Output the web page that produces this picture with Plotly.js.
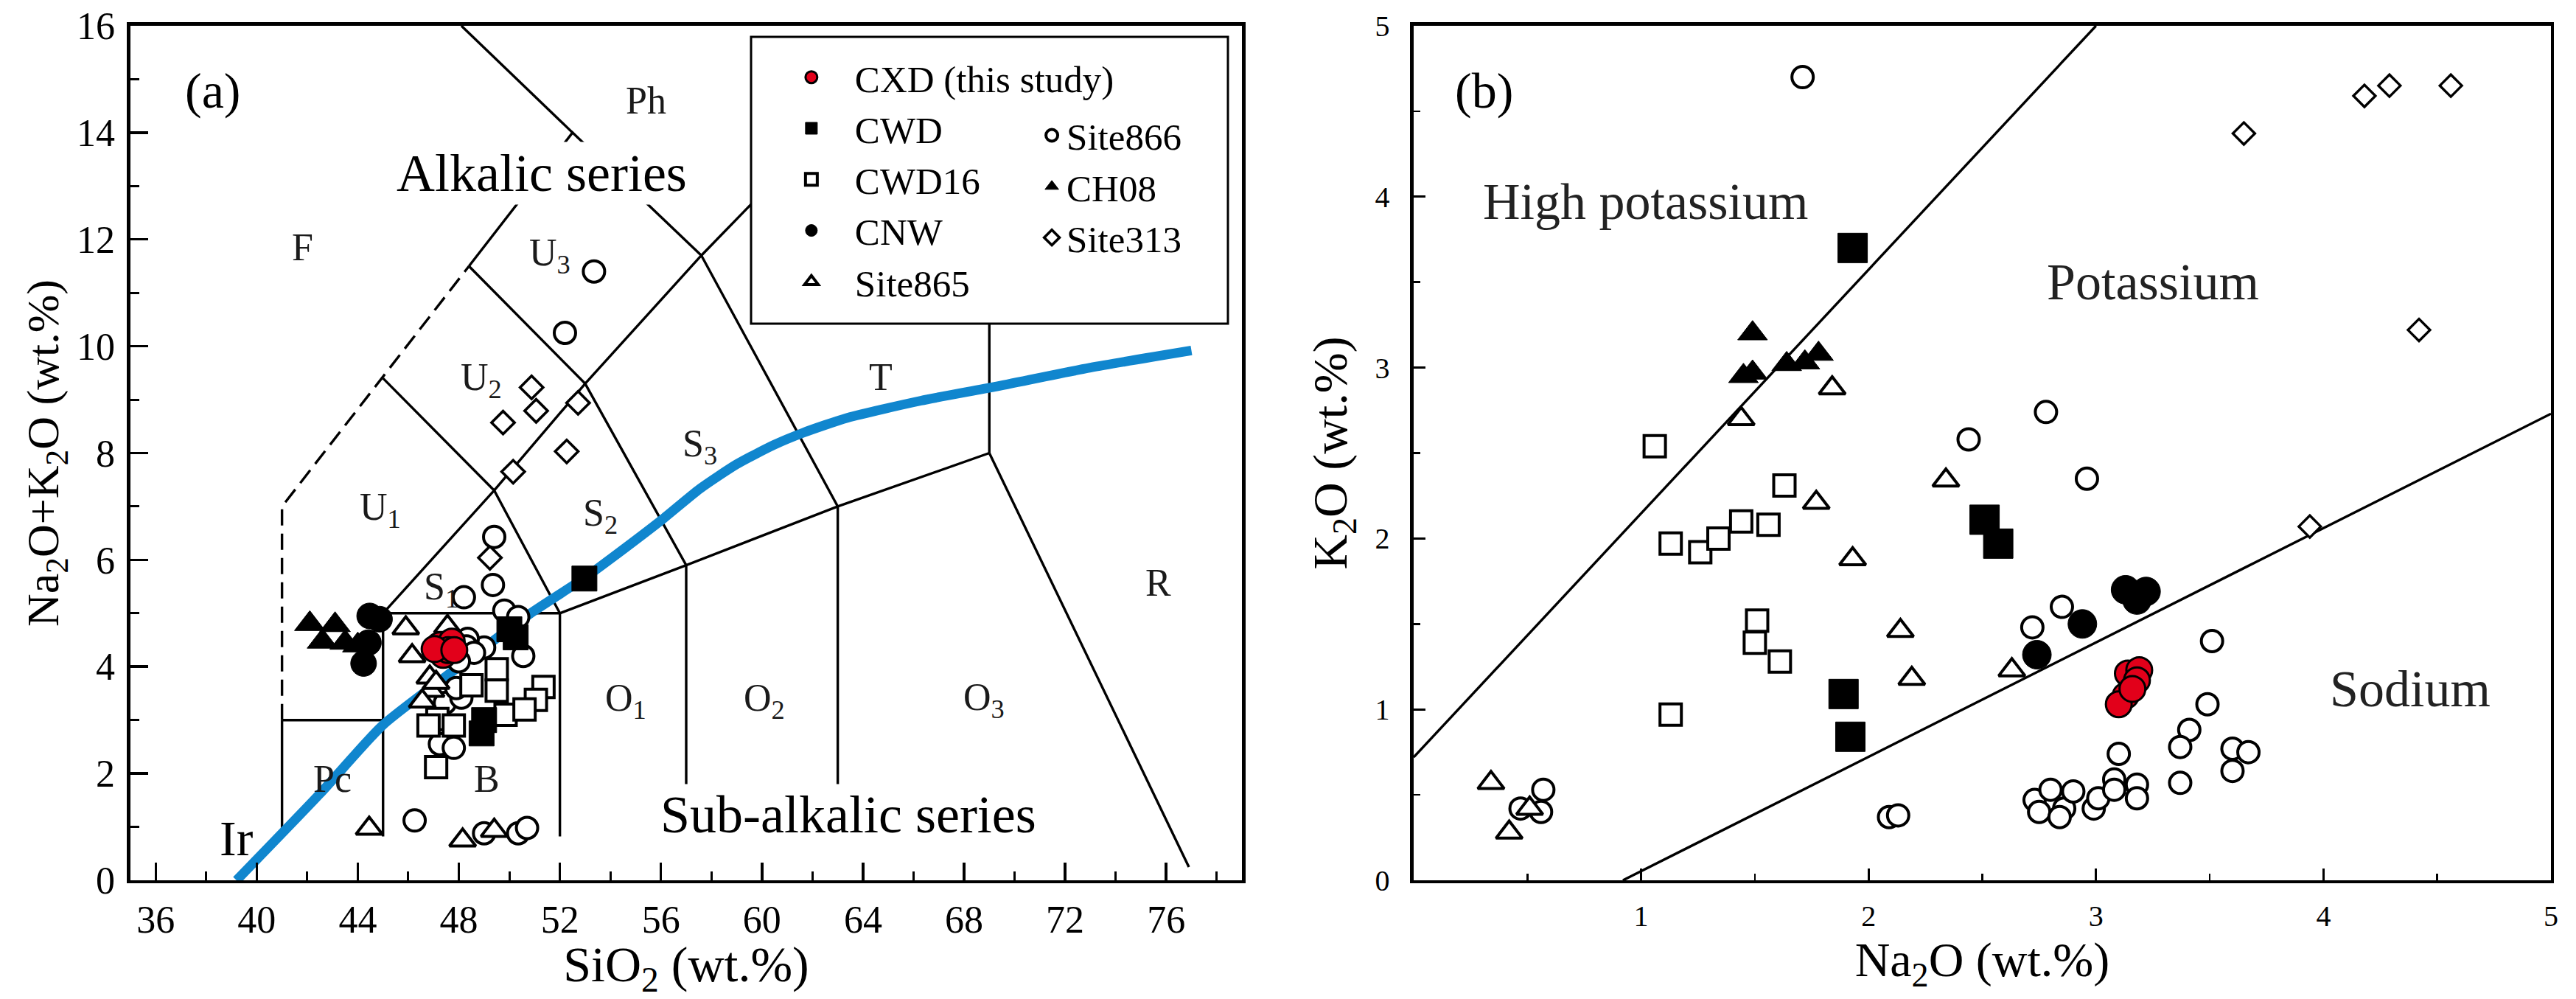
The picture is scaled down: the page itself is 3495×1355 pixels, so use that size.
<!DOCTYPE html>
<html><head><meta charset="utf-8">
<script src="https://cdn.plot.ly/plotly-3.0.1.min.js"></script>
<style>html,body{margin:0;padding:0;background:#fff;}#chart{width:3495px;height:1355px;}</style>
</head><body><div id="chart"></div>
<script>
// ---------- Panel (a): TAS diagram data (SiO2 vs Na2O+K2O) ----------
const cxdA_SiO2 = [47.24, 47.72, 47.38, 47.58, 47.04, 47.82];
const cxdA_Alk  = [4.40, 4.47, 4.22, 4.31, 4.33, 4.31];
const cwdA_SiO2 = [52.97, 50.0, 50.25, 49.0, 48.9];
const cwdA_Alk  = [5.65, 4.70, 4.55, 3.00, 2.75];
const cwd16A_SiO2 = [49.5, 48.5, 49.5, 51.35, 51.05, 49.85, 50.6, 47.15, 46.8, 47.8, 47.1];
const cwd16A_Alk  = [3.95, 3.65, 3.55, 3.62, 3.38, 3.10, 3.20, 3.02, 2.90, 2.90, 2.12];
const cnwA_SiO2 = [44.47, 44.86, 44.42, 44.23];
const cnwA_Alk  = [4.95, 4.89, 4.45, 4.06];
const site865A_SiO2 = [45.9, 47.55, 46.15, 46.85, 46.9, 46.55, 47.1, 44.45, 48.15, 49.4];
const site865A_Alk  = [4.72, 4.75, 4.20, 3.80, 3.55, 3.35, 3.70, 0.97, 0.75, 0.93];
const site866A_SiO2 = [53.35, 52.2, 49.4, 49.35, 48.2, 49.8, 50.35, 50.55, 49.0, 48.35, 48.3, 48.6, 48.0, 47.45, 48.1, 47.9, 47.25, 47.8, 46.25, 49.0, 50.35, 50.7];
const site866A_Alk  = [11.4, 10.25, 6.43, 5.53, 5.30, 5.05, 4.93, 4.20, 4.36, 4.52, 4.38, 4.26, 4.10, 3.32, 3.42, 3.60, 2.55, 2.48, 1.12, 0.88, 0.88, 0.98];
const ch08A_SiO2 = [42.1, 43.1, 42.6, 43.5, 44.0];
const ch08A_Alk  = [4.80, 4.78, 4.47, 4.45, 4.40];
const site313A_SiO2 = [50.88, 51.06, 49.75, 52.72, 52.27, 50.15, 49.23];
const site313A_Alk  = [9.23, 8.79, 8.57, 8.94, 8.03, 7.65, 6.04];

// TAS field boundaries (segments separated by null)
const tasSolidX = [41,41,null, 41,45,null, 45,45,null, 45,52,null, 52,52,null,
  52,57,63,69,null, 57,57,null, 63,63,null, 69,76.9,null, 69,69,null,
  45,49.4,52,null, 45,49.4,null, 49.4,53,57.6,61.3,null, 48.4,53,57,null,
  57.6,63,null, 48.4,52.5,57.6,null, 48.1,52.5];
const tasSolidY = [0.82,3,null, 3,3,null, 0.82,5,null, 5,5,null, 0.82,5,null,
  5,5.9,7,8,null, 1.8,5.9,null, 1.8,7,null, 8,0.25,null, 8,13,null,
  5,7.3,5,null, 9.4,7.3,null, 7.3,9.3,11.7,13.5,null, 11.5,9.3,5.9,null,
  11.7,7,null, 11.5,14,11.7,null, 16,14];
const tasDashX = [41, 41, 48.4];
const tasDashY = [3, 7, 11.5];
// Alkalic / sub-alkalic dividing curve
const irvineX = [39.2, 42.5, 45, 48, 50.84, 53, 54.63, 56.09, 57.54, 59.0, 60.46, 61.63, 63.38, 66.29, 69.21, 73, 77];
const irvineY = [0, 1.62, 2.91, 4.0, 5.0, 5.67, 6.24, 6.77, 7.33, 7.79, 8.15, 8.38, 8.66, 8.98, 9.24, 9.6, 9.92];

// ---------- Panel (b): Na2O vs K2O ----------
const cxdB_Na = [3.14, 3.19, 3.18, 3.13, 3.10, 3.16];
const cxdB_K  = [1.21, 1.23, 1.17, 1.08, 1.03, 1.12];
const cwdB_Na = [1.93, 2.51, 2.57, 1.89, 1.92];
const cwdB_K  = [3.70, 2.11, 1.97, 1.09, 0.84];
const cwd16B_Na = [1.06, 1.63, 1.13, 1.26, 1.34, 1.44, 1.56, 1.51, 1.50, 1.61, 1.13];
const cwd16B_K  = [2.54, 2.31, 1.97, 1.92, 2.00, 2.10, 2.08, 1.52, 1.39, 1.28, 0.97];
const cnwB_Na = [2.74, 2.94, 3.13, 3.22, 3.18];
const cnwB_K  = [1.32, 1.50, 1.70, 1.69, 1.64];
const site865B_Na = [0.34, 0.42, 0.51, 1.44, 1.84, 1.77, 1.93, 2.14, 2.19, 2.34, 2.63];
const site865B_K  = [0.57, 0.28, 0.42, 2.70, 2.88, 2.21, 1.88, 1.46, 1.18, 2.34, 1.23];
const site866B_Na = [1.71, 2.78, 2.44, 2.96, 2.85, 2.72, 3.51, 3.49, 3.41, 3.37, 3.60, 3.67, 3.60, 3.37, 3.10, 2.73, 2.80, 2.75, 2.86, 2.90, 2.84, 2.99, 3.01, 3.08, 3.08, 3.18, 3.18, 2.09, 2.13, 0.47, 0.57, 0.56];
const site866B_K  = [4.70, 2.74, 2.58, 2.35, 1.60, 1.48, 1.40, 1.03, 0.88, 0.78, 0.77, 0.75, 0.64, 0.57, 0.74, 0.47, 0.53, 0.40, 0.42, 0.52, 0.37, 0.42, 0.48, 0.59, 0.53, 0.56, 0.48, 0.37, 0.38, 0.42, 0.53, 0.40];
const ch08B_Na = [1.49, 1.45, 1.49, 1.64, 1.72, 1.78];
const ch08B_K  = [3.20, 2.95, 2.97, 3.02, 3.03, 3.08];
const site313B_Na = [3.65, 4.18, 4.29, 4.56, 4.42, 3.94];
const site313B_K  = [4.37, 4.59, 4.65, 4.65, 3.22, 2.07];
// field boundaries
const kBoundX = [0, 3.0, null, 0.92, 5];
const kBoundY = [0.72, 5.0, null, 0, 2.73];

// ---------- tick values ----------
const ticksA_x = [36, 40, 44, 48, 52, 56, 60, 64, 68, 72, 76];
const minorA_x = [38, 42, 46, 50, 54, 58, 62, 66, 70, 74, 78];
const ticksA_y = [0, 2, 4, 6, 8, 10, 12, 14, 16];
const minorA_y = [1, 3, 5, 7, 9, 11, 13, 15];
const ticksB_x = [1, 2, 3, 4, 5];
const ticksB_y = [0, 1, 2, 3, 4, 5];
const minorB = [0.5, 1.5, 2.5, 3.5, 4.5];

const FONT = 'Liberation Serif, Times New Roman, serif';
const RED = 'rgb(226,0,26)';
const BLUE = 'rgb(16,134,206)';

function pts(x, y, name, symbol, size, fill, lw, axis, legendOpts) {
  const t = {
    type: 'scatter', mode: 'markers', x: x, y: y, name: name,
    marker: {symbol: symbol, size: size, color: fill, line: {color: '#000', width: lw}},
    hoverinfo: 'x+y+name', cliponaxis: false
  };
  if (axis === 2) { t.xaxis = 'x2'; t.yaxis = 'y2'; t.showlegend = false; }
  else { Object.assign(t, legendOpts); }
  return t;
}

const traces = [
  // panel (a) lines
  {type:'scatter', mode:'lines', x: tasSolidX, y: tasSolidY, line:{color:'#000', width:3.4}, showlegend:false, hoverinfo:'skip', connectgaps:false},
  {type:'scatter', mode:'lines', x: tasDashX, y: tasDashY, line:{color:'#000', width:3.4, dash:'22px,11px'}, showlegend:false, hoverinfo:'skip'},
  {type:'scatter', mode:'lines', x: irvineX, y: irvineY, line:{color:BLUE, width:13, shape:'spline', smoothing:0.6}, showlegend:false, hoverinfo:'skip'},
  // panel (b) lines
  {type:'scatter', mode:'lines', x: kBoundX, y: kBoundY, xaxis:'x2', yaxis:'y2', line:{color:'#000', width:3.4}, showlegend:false, hoverinfo:'skip', connectgaps:false},

  // panel (a) points
  pts(site313A_SiO2, site313A_Alk, 'Site313', 'diamond', 24, '#fff', 3.6, 1, {legend:'legend2', legendrank:3}),
  pts(site866A_SiO2, site866A_Alk, 'Site866', 'circle', 29, '#fff', 4, 1, {legend:'legend2', legendrank:1}),
  pts(site865A_SiO2, site865A_Alk, 'Site865', 'triangle-up', 31, '#fff', 4, 1, {legend:'legend', legendrank:5}),
  pts(cwd16A_SiO2, cwd16A_Alk, 'CWD16', 'square', 29, '#fff', 4, 1, {legend:'legend', legendrank:3}),
  pts(cwdA_SiO2, cwdA_Alk, 'CWD', 'square', 34, '#000', 1, 1, {legend:'legend', legendrank:2}),
  pts(cnwA_SiO2, cnwA_Alk, 'CNW', 'circle', 35, '#000', 1, 1, {legend:'legend', legendrank:4}),
  pts(ch08A_SiO2, ch08A_Alk, 'CH08', 'triangle-up', 36, '#000', 1, 1, {legend:'legend2', legendrank:2}),
  pts(cxdA_SiO2, cxdA_Alk, 'CXD (this study)', 'circle', 35, RED, 3, 1, {legend:'legend', legendrank:1}),

  // panel (b) points
  pts(site313B_Na, site313B_K, 'Site313', 'diamond', 23, '#fff', 3.4, 2),
  pts(site866B_Na, site866B_K, 'Site866', 'circle', 29, '#fff', 4, 2),
  pts(site865B_Na, site865B_K, 'Site865', 'triangle-up', 31, '#fff', 4, 2),
  pts(cwd16B_Na, cwd16B_K, 'CWD16', 'square', 29, '#fff', 4, 2),
  pts(cwdB_Na, cwdB_K, 'CWD', 'square', 40, '#000', 1, 2),
  pts(cnwB_Na, cnwB_K, 'CNW', 'circle', 39, '#000', 1, 2),
  pts(ch08B_Na, ch08B_K, 'CH08', 'triangle-up', 35, '#000', 1, 2),
  pts(cxdB_Na, cxdB_K, 'CXD (this study)', 'circle', 35, RED, 3, 2)
];

function lab(x, y, text, size, ax, extra) {
  return Object.assign({x: x, y: y, xref: ax === 2 ? 'x2' : 'x', yref: ax === 2 ? 'y2' : 'y',
    text: text, showarrow: false, xanchor: 'center', yanchor: 'middle',
    font: {family: FONT, size: size, color: '#1a1a1a'}}, extra || {});
}

const RS = 52; // region label size
const annotations = [
  lab(38.25, 14.78, '(a)', 68, 1, {font:{family:FONT, size:68, color:'#000'}}),
  lab(41.8, 11.85, 'F', RS, 1),
  lab(55.4, 14.6, 'Ph', RS, 1),
  lab(51.6, 11.7, 'U<sub>3</sub>', RS, 1),
  lab(48.9, 9.36, 'U<sub>2</sub>', RS, 1),
  lab(44.9, 6.94, 'U<sub>1</sub>', RS, 1),
  lab(47.3, 5.45, 'S<sub>1</sub>', RS, 1),
  lab(53.6, 6.82, 'S<sub>2</sub>', RS, 1),
  lab(57.55, 8.13, 'S<sub>3</sub>', RS, 1),
  lab(64.7, 9.42, 'T', RS, 1),
  lab(43.0, 1.9, 'Pc', RS, 1),
  lab(49.1, 1.9, 'B', RS, 1),
  lab(54.6, 3.36, 'O<sub>1</sub>', RS, 1),
  lab(60.1, 3.36, 'O<sub>2</sub>', RS, 1),
  lab(68.8, 3.38, 'O<sub>3</sub>', RS, 1),
  lab(75.7, 5.57, 'R', RS, 1),
  lab(39.2, 0.78, 'Ir', 68, 1, {font:{family:FONT, size:68, color:'#000'}}),
  lab(51.27, 13.24, 'Alkalic series', 72, 1, {bgcolor:'#fff', borderpad:2, font:{family:FONT, size:72, color:'#000'}}),
  lab(63.43, 1.23, 'Sub-alkalic series', 72, 1, {bgcolor:'#fff', borderpad:0, font:{family:FONT, size:72, color:'#000'}}),
  lab(0.31, 4.62, '(b)', 68, 2, {font:{family:FONT, size:68, color:'#000'}}),
  lab(1.02, 3.97, 'High potassium', 70, 2, {font:{family:FONT, size:70, color:'#222'}}),
  lab(3.25, 3.50, 'Potassium', 70, 2, {font:{family:FONT, size:70, color:'#222'}}),
  lab(4.38, 1.12, 'Sodium', 70, 2, {font:{family:FONT, size:70, color:'#222'}})
];

const axisCommon = {
  showgrid: false, zeroline: false, showline: true, linecolor: '#000', linewidth: 4.5,
  mirror: true, ticks: 'inside', tickcolor: '#000', tickmode: 'array', fixedrange: true
};

const layout = {
  width: 3495, height: 1355,
  margin: {l: 0, r: 0, t: 0, b: 0},
  paper_bgcolor: '#fff', plot_bgcolor: '#fff',
  font: {family: FONT, color: '#000'},
  xaxis: Object.assign({}, axisCommon, {
    domain: [0.05064, 0.48212], range: [35, 79], anchor: 'y',
    tickvals: ticksA_x, ticklen: 24, tickwidth: 3.5,
    minor: {tickmode: 'array', tickvals: minorA_x, ticks: 'inside', ticklen: 12, tickwidth: 3, tickcolor: '#000'},
    tickfont: {family: FONT, size: 52}, ticklabelstandoff: 4,
    title: {text: 'SiO<sub>2</sub> (wt.%)', font: {family: FONT, size: 68}, standoff: 2}
  }),
  yaxis: Object.assign({}, axisCommon, {
    domain: [0.11882, 0.97417], range: [0, 16], anchor: 'x',
    tickvals: ticksA_y, ticklen: 24, tickwidth: 3.5,
    minor: {tickmode: 'array', tickvals: minorA_y, ticks: 'inside', ticklen: 12, tickwidth: 3, tickcolor: '#000'},
    tickfont: {family: FONT, size: 52}, ticklabelstandoff: 6,
    title: {text: 'Na<sub>2</sub>O+K<sub>2</sub>O (wt.%)', font: {family: FONT, size: 62}, standoff: 6}
  }),
  xaxis2: Object.assign({}, axisCommon, {
    domain: [0.54878, 0.99027], range: [0, 5], anchor: 'y2',
    tickvals: ticksB_x, ticklen: 16, tickwidth: 3,
    minor: {tickmode: 'array', tickvals: minorB, ticks: 'inside', ticklen: 9, tickwidth: 2.5, tickcolor: '#000'},
    tickfont: {family: FONT, size: 40}, ticklabelstandoff: 10,
    title: {text: 'Na<sub>2</sub>O (wt.%)', font: {family: FONT, size: 66}, standoff: 4}
  }),
  yaxis2: Object.assign({}, axisCommon, {
    domain: [0.11882, 0.97417], range: [0, 5], anchor: 'x2',
    tickvals: ticksB_y, ticklen: 16, tickwidth: 3,
    minor: {tickmode: 'array', tickvals: minorB, ticks: 'inside', ticklen: 9, tickwidth: 2.5, tickcolor: '#000'},
    tickfont: {family: FONT, size: 40}, ticklabelstandoff: 20,
    title: {text: 'K<sub>2</sub>O (wt.%)', font: {family: FONT, size: 66}, standoff: 18}
  }),
  shapes: [
    {type: 'rect', xref: 'paper', yref: 'paper', x0: 0.29156, x1: 0.47668, y0: 0.6760, y1: 0.9631,
     fillcolor: '#fff', line: {color: '#000', width: 3}, layer: 'above'}
  ],
  legend: {x: 0.2981, y: 0.952, xanchor: 'left', yanchor: 'top', bgcolor: 'rgba(0,0,0,0)', borderwidth: 0,
    font: {family: FONT, size: 51, color: '#000'}, itemsizing: 'trace', itemwidth: 108, tracegroupgap: 0},
  legend2: {x: 0.4026, y: 0.8938, xanchor: 'left', yanchor: 'top', bgcolor: 'rgba(0,0,0,0)', borderwidth: 0,
    font: {family: FONT, size: 51, color: '#000'}, itemsizing: 'trace', itemwidth: 30, tracegroupgap: 0},
  annotations: annotations,
  showlegend: true
};

Plotly.newPlot('chart', traces, layout, {staticPlot: true, displayModeBar: false});
</script>
</body></html>
